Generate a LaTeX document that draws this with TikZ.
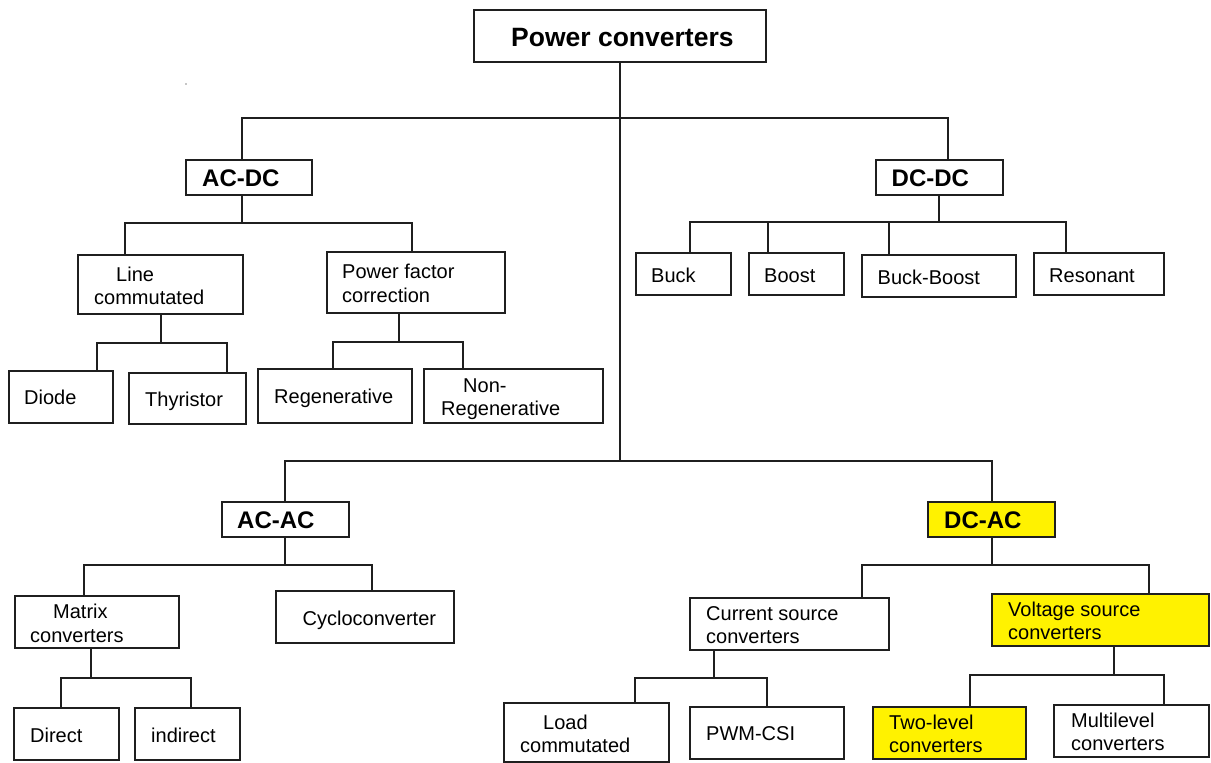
\documentclass[tikz,border=0pt]{standalone}
\usepackage{fontspec}
\setmainfont{Liberation Sans}
% box from its corners: [style]{name}{x1}{y1}{x2}{y2}
\newcommand{\convbox}[6][]{%
  \node[box,#1,minimum width={#5-#3},minimum height={#6-#4}] (#2)
    at ({(#3+#5)/2},{(#4+#6)/2}) {};}
\begin{document}
\begin{tikzpicture}[x=1pt,y=-1pt,
  box/.style={draw=black!88, line width=1.7pt, inner sep=0pt, fill=white},
  hl/.style={fill=yellow},
  txt/.style={anchor=base west, inner sep=0pt, font=\fontsize{20}{24}\selectfont},
  head/.style={anchor=base west, inner sep=0pt, font=\fontsize{24}{28}\selectfont\bfseries},
  title/.style={anchor=base west, inner sep=0pt, font=\fontsize{26.5}{30}\selectfont\bfseries},
  link/.style={draw=black!88, line width=1.7pt}]
\useasboundingbox[fill=white] (0,0) rectangle (1211,763);

% boxes
\convbox{root}{474}{10}{766}{62}
\convbox{acdc}{186}{160}{312}{195}
\convbox{dcdc}{876}{160}{1003}{195}
\convbox{lc}{78}{255}{243}{314}
\convbox{pfc}{327}{252}{505}{313}
\convbox{diode}{9}{371}{113}{423}
\convbox{thy}{129}{373}{246}{424}
\convbox{regen}{258}{369}{412}{423}
\convbox{nonregen}{424}{369}{603}{423}
\convbox{buck}{636}{253}{731}{295}
\convbox{boost}{749}{253}{844}{295}
\convbox{bb}{862}{255}{1016}{297}
\convbox{res}{1034}{253}{1164}{295}
\convbox{acac}{222}{502}{349}{537}
\convbox[hl]{dcac}{928}{502}{1055}{537}
\convbox{matrix}{15}{596}{179}{648}
\convbox{cyclo}{276}{591}{454}{643}
\convbox{direct}{14}{708}{119}{760}
\convbox{indirect}{135}{708}{240}{760}
\convbox{csc}{690}{598}{889}{650}
\convbox[hl]{vsc}{992}{594}{1209}{646}
\convbox{load}{504}{703}{669}{762}
\convbox{pwm}{690}{707}{844}{759}
\convbox[hl]{two}{873}{707}{1026}{759}
\convbox{multi}{1054}{705}{1209}{757}

% labels
\node[title] (t-root) at (511,46) {Power converters};
\node[head] (t-acdc) at (202,186) {AC-DC};
\node[head] (t-dcdc) at (891.5,186) {DC-DC};
\node[head] (t-acac) at (237,528) {AC-AC};
\node[head] (t-dcac) at (944,528) {DC-AC};
\node[txt] (t-lc1) at (116,281) {Line};
\node[txt] (t-lc2) at (94,304) {commutated};
\node[txt] (t-pfc1) at (342,278) {Power factor};
\node[txt] (t-pfc2) at (342,302) {correction};
\node[txt] (t-diode) at (24,404) {Diode};
\node[txt] (t-thy) at (145,406) {Thyristor};
\node[txt] (t-regen) at (274,403) {Regenerative};
\node[txt] (t-nr1) at (463,392) {Non-};
\node[txt] (t-nr2) at (441,415) {Regenerative};
\node[txt] (t-buck) at (651,282) {Buck};
\node[txt] (t-boost) at (764,282) {Boost};
\node[txt] (t-bb) at (877.5,284) {Buck-Boost};
\node[txt] (t-res) at (1049,282) {Resonant};
\node[txt] (t-mx1) at (53,618) {Matrix};
\node[txt] (t-mx2) at (30,642) {converters};
\node[txt] (t-cyclo) at (302.5,625) {Cycloconverter};
\node[txt] (t-direct) at (30,742) {Direct};
\node[txt] (t-indirect) at (151,742) {indirect};
\node[txt] (t-csc1) at (706,620) {Current source};
\node[txt] (t-csc2) at (706,643) {converters};
\node[txt] (t-vsc1) at (1008,616) {Voltage source};
\node[txt] (t-vsc2) at (1008,639) {converters};
\node[txt] (t-load1) at (543,729) {Load};
\node[txt] (t-load2) at (520,752) {commutated};
\node[txt] (t-pwm) at (706,740) {PWM-CSI};
\node[txt] (t-two1) at (889,729) {Two-level};
\node[txt] (t-two2) at (889,752) {converters};
\node[txt] (t-multi1) at (1071,727) {Multilevel};
\node[txt] (t-multi2) at (1071,750) {converters};

% junctions of the tree
\coordinate (j-top) at (620,118);
\coordinate (j-low) at (620,461);
\coordinate (j-acdc) at (242,223);
\coordinate (j-lc) at (161,343);
\coordinate (j-pfc) at (399,342);
\coordinate (j-dcdc) at (939,222);
\coordinate (j-acac) at (285,565);
\coordinate (j-mx) at (91,678);
\coordinate (j-dcac) at (992,565);
\coordinate (j-csc) at (714,678);
\coordinate (j-vsc) at (1114,675);

% connectors
\draw[link] (root.south) -- (j-low);
\draw[link] ([xshift=-7]acdc.north) |- (j-top) -| ([xshift=8.5]dcdc.north);
\draw[link] ([xshift=-0.5]acac.north) |- (j-low) -| ([xshift=0.5]dcac.north);

\draw[link] ([xshift=-7]acdc.south) -- (j-acdc);
\draw[link] ([xshift=-35.5]lc.north) |- (j-acdc) -| ([xshift=-4]pfc.north);
\draw[link] ([xshift=0.5]lc.south) -- (j-lc);
\draw[link] ([xshift=36]diode.north) |- (j-lc) -| ([xshift=39.5]thy.north);
\draw[link] ([xshift=-17]pfc.south) -- (j-pfc);
\draw[link] ([xshift=-2]regen.north) |- (j-pfc) -| ([xshift=-50.5]nonregen.north);

\draw[link] ([xshift=-0.5]dcdc.south) -- (j-dcdc);
\draw[link] ([xshift=6.5]buck.north) |- (j-dcdc) -| ([xshift=-33]res.north);
\draw[link] ([xshift=-28.5]boost.north) -- ([xshift=-28.5]boost.north |- j-dcdc);
\draw[link] ([xshift=-50]bb.north) -- ([xshift=-50]bb.north |- j-dcdc);

\draw[link] ([xshift=-0.5]acac.south) -- (j-acac);
\draw[link] ([xshift=-13]matrix.north) |- (j-acac) -| ([xshift=7]cyclo.north);
\draw[link] ([xshift=-6]matrix.south) -- (j-mx);
\draw[link] ([xshift=-5.5]direct.north) |- (j-mx) -| ([xshift=3.5]indirect.north);

\draw[link] ([xshift=0.5]dcac.south) -- (j-dcac);
\draw[link] ([xshift=72.5]csc.north) |- (j-dcac) -| ([xshift=48.5]vsc.north);
\draw[link] ([xshift=-75.5]csc.south) -- (j-csc);
\draw[link] ([xshift=48.5]load.north) |- (j-csc) -| (pwm.north);
\draw[link] ([xshift=13.5]vsc.south) -- (j-vsc);
\draw[link] ([xshift=20.5]two.north) |- (j-vsc) -| ([xshift=32.5]multi.north);

% stray speck
\fill[black!45] (186,84) circle (0.8);
\end{tikzpicture}
\end{document}
